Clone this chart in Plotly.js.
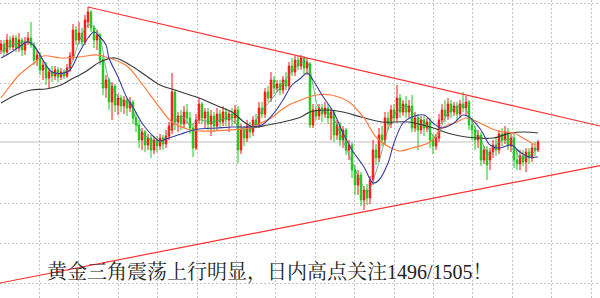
<!DOCTYPE html>
<html>
<head>
<meta charset="utf-8">
<script src="https://cdn.plot.ly/plotly-3.0.1.min.js"></script>
<style>html,body{margin:0;padding:0;background:#fff;}#chart{width:600px;height:298px;}</style>
</head>
<body>
<div id="chart"></div>
<script>
// ---- candle data (price units) ----
const openP = [
1508.5,1510,1508,1511,1509.25,1511.5,1509,1511,1508.5,1510.5,
1511.5,1509.75,1506,1507.25,1503.5,1504.75,1501.5,1503,1502,1503.5,
1501.75,1503,1502,1504,1507,1513.5,1511,1512.75,1510.5,1515.5,
1518,1514,1511,1512.25,1506,1499,1501,1495.5,1499.5,1494.75,
1496.5,1494.5,1496,1494,1495.5,1491.5,1489.75,1486,1488,1484.75,
1486.5,1483.5,1486,1484.5,1486.5,1485,1487,1488.5,1498,1490.5,
1492,1490,1493,1491.5,1489,1484,1491,1495,1491.5,1493,
1490,1492,1489.5,1492.5,1490.5,1493,1491,1492.5,1491.5,1493.5,
1483.5,1488.5,1486.5,1489.5,1488,1491,1489.75,1494,1492.5,1498,
1496.5,1501,1499,1500,1498.5,1501,1499.5,1504.5,1503,1506,
1504.5,1506.5,1504,1505,1489.75,1493.5,1492,1494,1492.5,1494,
1491.5,1493,1487.25,1489.75,1486,1488.5,1483.5,1484.75,1478.5,1474.75,
1477.25,1471,1473.5,1471.5,1476,1483.5,1481.5,1487.25,1486,1491.5,
1490,1493.5,1491.5,1496.5,1493,1495,1493,1494.5,1489,1491.5,
1488.5,1491,1489,1490.5,1486,1484.5,1486.5,1491,1493.5,1492,
1495,1493,1494.5,1492.5,1495,1494,1495.5,1489.75,1488.5,1486,
1487.25,1481,1483.5,1481,1483,1484.75,1483.5,1487.5,1486,1488,
1484.5,1486.5,1481,1480,1482,1480.5,1483,1481.5,1484,1483.5
];
const closeP = [
1510,1508,1511,1509.25,1511.5,1509,1511,1508.5,1510.5,1511.5,
1509.75,1506,1507.25,1503.5,1504.75,1501.5,1503,1502,1503.5,1501.75,
1503,1502,1504,1507,1513.5,1511,1512.75,1510.5,1516,1518,
1514,1511,1512.25,1506,1499,1501,1495.5,1499.5,1494.75,1496.5,
1494.5,1496,1494,1495.5,1491.5,1489.75,1486,1488,1484.75,1486.5,
1483.5,1486,1484.5,1486.5,1485,1487,1489.5,1498,1490.5,1492,
1490,1493,1491.5,1489,1484,1491,1495,1491.5,1493,1490,
1492,1489.5,1492.5,1490.5,1493,1491,1492.5,1491.5,1493.5,1483.5,
1488.5,1486.5,1489.5,1488,1491,1489.75,1494,1492.5,1498,1496.5,
1501,1499,1500,1498.5,1501,1499.5,1504.5,1503,1506,1504.5,
1506.5,1504,1505.5,1489.75,1493.5,1492,1494,1492.5,1494,1491.5,
1493,1487.25,1489.75,1486,1488.5,1483.5,1484.75,1478.5,1474.75,1477.25,
1471,1473.5,1471.5,1476,1483.5,1481.5,1487.25,1486,1491.5,1490,
1493.5,1491.5,1496.5,1493,1495,1493,1494.5,1489,1491.5,1488.5,
1491,1489,1490.5,1486,1484.5,1486.5,1491,1493.5,1492,1495,
1493,1494.5,1492.5,1495,1494,1495.5,1489.75,1488.5,1486,1487.25,
1481,1483.5,1479.75,1483,1484.75,1483.5,1487.5,1486,1488,1484.5,
1486.5,1481,1480,1482,1480.5,1483,1481.5,1484,1483.5,1485.5
];
const highP = [
1511,1511,1512.5,1512,1512.25,1512.25,1512.75,1511.5,1511.75,1513,
1515.5,1510.5,1508.5,1508,1506,1505.5,1504,1504.5,1504.5,1504.25,
1504,1503.75,1505,1508,1515,1514.5,1515.5,1514,1517.25,1519.25,
1518.5,1514.75,1513.5,1512.75,1507.25,1502.25,1501.5,1500.5,1500,1497.5,
1497.25,1497,1496.5,1496.75,1496,1493,1491,1489,1488.5,1487.5,
1487.25,1487,1487,1487.5,1487.25,1488.5,1490.5,1502.75,1498.5,1493,
1493.5,1494.5,1495,1493,1490,1492.5,1496.5,1495.5,1494,1494,
1493.5,1493,1494,1493.5,1494.5,1494,1493.5,1494,1494.75,1494.5,
1490,1489.5,1491,1490.5,1492,1492.5,1495.5,1495.5,1499,1499.5,
1503,1502,1501,1501,1502,1503,1505.5,1506.5,1507,1507,
1507.25,1507,1506.5,1505.5,1495,1494.5,1495,1495,1495.5,1495,
1494,1493.5,1491,1490.5,1489.5,1489,1486,1485.5,1479.75,1478.5,
1478,1474.5,1475,1477,1486,1485,1489,1489.5,1493,1493,
1494.75,1495,1499.75,1497.5,1496,1497,1496,1497.25,1493,1492.5,
1492,1492,1491.5,1491.5,1487.5,1487.5,1492.5,1495,1496,1496.5,
1496,1495.5,1495.5,1496,1498,1497,1496,1491.5,1489.5,1488.5,
1488,1484.5,1484.5,1484,1486,1486.5,1488.5,1489,1489.5,1489,
1487.5,1487.5,1483.5,1483.5,1483.5,1484,1484,1485,1485.5,1486
];
const lowP = [
1507.5,1507,1507.25,1508.5,1508.5,1508,1508,1507,1507.25,1509.75,
1509,1504.75,1504.5,1502.25,1501,1499.75,1499,1500.5,1501,1500.5,
1501,1501.25,1501.5,1503,1506,1509.75,1510,1509.5,1509.75,1514,
1513,1509,1508.5,1504.75,1497.25,1496.5,1493.5,1491,1493,1492.25,
1493,1492.5,1492,1493,1490,1488,1484,1483.5,1483,1483.5,
1481.5,1482.5,1483,1483.5,1483.5,1484,1486,1487.5,1488.5,1488,
1488.5,1489,1490,1487.5,1481.75,1483.5,1490,1490,1489,1488.5,
1487,1488,1488.5,1489,1489.5,1489.5,1488,1489.5,1490,1480.25,
1482.5,1484.5,1485.5,1486.5,1487,1489,1489,1491.5,1491.5,1495.5,
1495.5,1497.5,1498,1497.25,1497.5,1498.5,1498.5,1502,1502,1503.5,
1503.5,1502.5,1502.25,1489,1489,1491,1491,1490.5,1491.5,1490,
1486,1485.5,1486,1484.5,1484,1482.25,1481,1476.5,1472.25,1472.25,
1469.5,1468.5,1469.75,1470,1474.75,1479.75,1480.5,1484.5,1485,1488.5,
1489,1490.5,1490.5,1491.5,1492,1491.5,1491.5,1488,1488,1483.5,
1487.5,1487,1488,1484,1482.5,1483.5,1485.5,1490,1490.5,1491,
1491.5,1492,1491,1491.5,1493,1492,1488.5,1486,1483.5,1484,
1479.5,1480,1476,1478.5,1481.5,1482,1482.5,1484.5,1485,1483.5,
1483,1479,1478.5,1478.5,1479.5,1478,1480,1480.5,1482,1483
];

// ---- moving averages (candle index, price) ----
const maFastIdx = [0,3,6,10,13,16,20,23,26,29,31,33,36,40,43,46,50,53,56,60,63,66,70,73,76,80,83,86,90,93,96,100,102,104,106,110,113,116,120,122,125,128,131,135,138,141,145,148,151,154,156,160,163,166,170,173,176,179];
const maFast = [1508,1509.5,1510.25,1510.5,1507.25,1503.5,1502.5,1504.5,1510.5,1514.75,1514.25,1511.5,1501,1496,1495,1489,1486,1485.5,1488,1492,1489.75,1491,1490.5,1491,1491.5,1489,1488.5,1492.25,1496,1499,1502.25,1505.25,1505.5,1499.75,1494,1492.25,1487.75,1482.25,1475.5,1473,1478,1486,1492.25,1494.5,1492.25,1490.5,1486.5,1491.5,1494,1494.5,1492.25,1486,1482.25,1485.5,1486,1481.5,1482,1484];

const maMidIdx = [0,3,6,9,11,14,17,21,23,26,29,31,33,35,36,39,42,44,47,51,53,56,60,63,66,72,77,83,87,91,94,97,100,102,104,107,111,114,117,121,124,126,129,131,134,137,141,144,147,151,154,156,160,163,166,170,173,176,179];
const maMid = [1506.5,1507.75,1509.25,1510.5,1509.5,1506,1503,1502.75,1503.5,1507.75,1511.5,1513,1511.75,1509.75,1506.5,1501.75,1496.5,1494.25,1490.25,1486.75,1485.75,1486.5,1487.5,1488.25,1488.75,1489,1489.25,1489.25,1489.75,1492.75,1496,1499.75,1501.5,1502.75,1501,1497.25,1492.75,1487.75,1483.5,1479.25,1475.25,1476,1480.25,1485.25,1490.25,1491.75,1492.25,1490.25,1489,1490.25,1492.25,1491.75,1488.5,1484.75,1484,1484.75,1483,1481.75,1481.75];

const maSlowIdx = [0,3,6,11,14,20,26,32,36,42,47,53,57,62,66,76,83,86,90,93,96,100,105,110,116,121,125,130,133,137,143,147,152,155,159,163,167,171,174,178];
const maSlow = [1496.5,1499.5,1502.25,1505.25,1507,1506.5,1506.75,1507.25,1506.5,1504.5,1500,1494,1490.5,1488.75,1488.25,1488.5,1489,1490,1491.5,1493.25,1494.75,1496,1497.25,1497.25,1495.5,1491.5,1486.75,1484,1483.25,1484,1485.5,1489,1490.5,1491.5,1490.5,1489,1488,1487.75,1486.5,1484.75];

const maLongIdx = [0,5,10,15,20,23,28,33,38,43,48,53,58,63,66,73,77,81,84,89,94,100,103,109,114,120,127,136,143,150,155,164,170,174,179];
const maLong = [1495.25,1497.25,1498.5,1498.75,1499.75,1501,1503,1505.5,1506.5,1504.75,1502.25,1499.75,1498.5,1497.25,1496.5,1494.25,1493,1490.5,1489.25,1489.75,1490.5,1491.75,1493,1493.5,1493,1491.75,1490.5,1490.5,1489.25,1487.5,1486.75,1486.5,1487.75,1488,1487.75];

// ---- triangle trend lines (candle index, price) ----
const trendTopIdx = [29, 199.67];
const trendTop = [1519.25, 1489.5];
const trendBottomIdx = [-0.33, 199.67];
const trendBottom = [1450.25, 1479.6];

const caption = "黄金三角震荡上行明显，日内高点关注1496/1505！";

const idx = openP.map((_, i) => i);
const lastClose = closeP[closeP.length - 1];

const traces = [
  {type:'candlestick', x: idx, open: openP, high: highP, low: lowP, close: closeP,
   increasing:{line:{color:'#ff1010', width:1}, fillcolor:'#ff1010'},
   decreasing:{line:{color:'#18c818', width:1}, fillcolor:'#18c818'},
   whiskerwidth:0, hoverinfo:'skip'},
  {type:'scatter', mode:'lines', x: maLongIdx, y: maLong, line:{color:'#3a3a3a', width:1.2, shape:'spline'}, hoverinfo:'skip'},
  {type:'scatter', mode:'lines', x: maSlowIdx, y: maSlow, line:{color:'#ff7a3c', width:1.2, shape:'spline'}, hoverinfo:'skip'},
  {type:'scatter', mode:'lines', x: maFastIdx, y: maFast, line:{color:'rgba(70,160,100,0.75)', width:1, shape:'spline'}, hoverinfo:'skip'},
  {type:'scatter', mode:'lines', x: maMidIdx, y: maMid, line:{color:'#3c3ca0', width:1.1, shape:'spline'}, hoverinfo:'skip'},
  {type:'scatter', mode:'lines', x: trendTopIdx, y: trendTop, line:{color:'#ff3030', width:1.2}, hoverinfo:'skip'},
  {type:'scatter', mode:'lines', x: trendBottomIdx, y: trendBottom, line:{color:'#ff3030', width:1.2}, hoverinfo:'skip'}
];

const layout = {
  width: 600, height: 298,
  margin: {l:0, r:0, t:0, b:0, pad:0},
  paper_bgcolor: '#ffffff', plot_bgcolor: '#ffffff',
  showlegend: false, hovermode: false,
  xaxis: {range: [-0.3333, 199.6667], showgrid: true, gridcolor: '#c4c4c4', griddash: '2px,2px', gridwidth: 1,
          tick0: -0.3333, dtick: 13.1333, showticklabels: false, ticks: '', zeroline: false, showline: false,
          rangeslider: {visible: false}, fixedrange: true},
  yaxis: {range: [1446.5, 1521], showgrid: true, gridcolor: '#c4c4c4', griddash: '2px,2px', gridwidth: 1,
          tick0: 1520.175, dtick: 10, showticklabels: false, ticks: '', zeroline: false, showline: false, fixedrange: true},
  shapes: [
    {type:'line', xref:'paper', x0:0, x1:1, yref:'y', y0:lastClose, y1:lastClose, line:{color:'#c0c0c0', width:1}, layer:'below'}
  ],
  annotations: [
    {text: caption, xref:'paper', yref:'paper', x: 45/600, y: 1 - 272/298, xanchor:'left', yanchor:'middle',
     showarrow:false, font:{family:'Liberation Serif, "Noto Serif CJK SC", "Noto Sans CJK SC", serif', size:20, color:'#222222'}}
  ]
};

Plotly.newPlot('chart', traces, layout, {staticPlot: true, displayModeBar: false});
</script>
</body>
</html>
